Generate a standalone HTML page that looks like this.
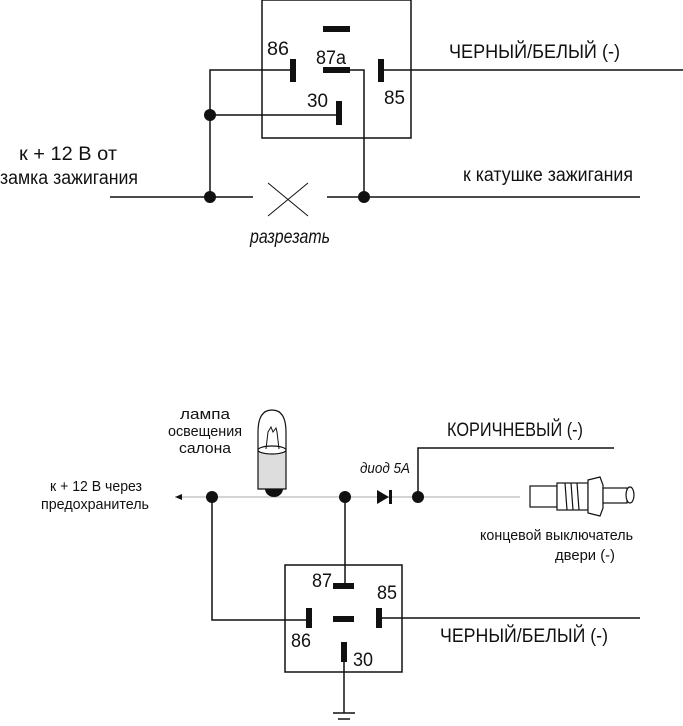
<!DOCTYPE html>
<html><head><meta charset="utf-8"><style>
html,body{margin:0;padding:0;background:#fff}
svg{display:block}
text{font-family:"Liberation Sans",sans-serif;fill:#111}
</style></head><body>
<svg width="683" height="726" viewBox="0 0 683 726" xmlns="http://www.w3.org/2000/svg">
<g stroke="#111" stroke-width="1.5" fill="none">
<rect x="262" y="0" width="149" height="138"/>
<polyline points="210,197 210,70 293,70"/>
<line x1="210" y1="115" x2="339" y2="115"/>
<polyline points="350,70 364,70 364,197"/>
<line x1="381" y1="70" x2="683" y2="70"/>
<line x1="110" y1="197" x2="253" y2="197"/>
<line x1="327" y1="197" x2="640" y2="197"/>
<line x1="268" y1="183" x2="308" y2="216" stroke-width="1"/>
<line x1="308" y1="183" x2="268" y2="216" stroke-width="1"/>
<line x1="175" y1="497" x2="520" y2="497" stroke="#aaa" stroke-width="1"/>
<polyline points="418,497 418,448 614,448"/>
<polyline points="212,497 212,620 309,620"/>
<line x1="345" y1="497" x2="345" y2="586"/>
<rect x="285" y="565" width="117" height="107"/>
<line x1="379" y1="618" x2="640" y2="618"/>
<line x1="344" y1="662" x2="344" y2="713"/>
<line x1="333" y1="713" x2="355" y2="713"/>
<line x1="338" y1="719" x2="350" y2="719"/>
</g>
<g fill="#111">
<rect x="290" y="59" width="6" height="23"/>
<rect x="323" y="26" width="27" height="6"/>
<rect x="323" y="67" width="27" height="6"/>
<rect x="378" y="59" width="6" height="23"/>
<rect x="336" y="101" width="6" height="24"/>
<circle cx="210" cy="115" r="6"/>
<circle cx="210" cy="197" r="6"/>
<circle cx="364" cy="197" r="6"/>
<rect x="333" y="583" width="21" height="6"/>
<rect x="306" y="608" width="6" height="20"/>
<rect x="333" y="616" width="21" height="6"/>
<rect x="376" y="608" width="6" height="20"/>
<rect x="341" y="642" width="6" height="20"/>
<circle cx="212" cy="497" r="6"/>
<circle cx="345" cy="497" r="6"/>
<circle cx="418" cy="497" r="6"/>
<polygon points="175,497 182,494 182,500"/>
<polygon points="377,490 377,504 389,497"/>
<rect x="389" y="490" width="3" height="14"/>
<path d="M265,489 a9,8 0 0 0 18,0 z"/>
</g>
<g stroke="#111" stroke-width="1.2" fill="none">
<path d="M258,450 L258,432 Q258,410 272,410 Q286,410 286,432 L286,450"/>
<path d="M258,450 L258,489 L286,489 L286,450" fill="#ddd"/>
<ellipse cx="272" cy="450" rx="14" ry="4" fill="#fff"/>
<path d="M266,449 L268,432 L271,427 L273,432 L276,428 L277,432 L279,449" stroke-width="1"/>
</g>
<g stroke="#111" stroke-width="1.2" fill="#fff">
<rect x="530" y="486" width="27" height="21"/>
<rect x="557" y="483" width="31" height="27"/>
<line x1="565" y1="483" x2="567" y2="510"/><line x1="571" y1="483" x2="573" y2="510"/><line x1="577" y1="483" x2="579" y2="510"/>
<path d="M588,480 L600,477 L603,485 L603,508 L600,516 L588,513 Z"/>
<rect x="603" y="488" width="24" height="15"/>
<ellipse cx="630" cy="495" rx="4" ry="8"/>
</g>
<g font-size="19" lengthAdjust="spacingAndGlyphs">
<text x="267" y="55" textLength="22" lengthAdjust="spacingAndGlyphs">86</text>
<text x="316" y="64" textLength="30" lengthAdjust="spacingAndGlyphs">87a</text>
<text x="307" y="107" textLength="21" lengthAdjust="spacingAndGlyphs">30</text>
<text x="384" y="104" textLength="21" lengthAdjust="spacingAndGlyphs">85</text>
<text x="449" y="58" textLength="171" lengthAdjust="spacingAndGlyphs">ЧЕРНЫЙ/БЕЛЫЙ (-)</text>
<text x="19" y="160" textLength="98" lengthAdjust="spacingAndGlyphs">к + 12 В от</text>
<text x="0" y="184" textLength="138" lengthAdjust="spacingAndGlyphs">замка зажигания</text>
<text x="463" y="181" textLength="170" lengthAdjust="spacingAndGlyphs">к катушке зажигания</text>
<text x="250" y="243" textLength="80" lengthAdjust="spacingAndGlyphs" font-style="italic">разрезать</text>
<text x="447" y="436" textLength="136" lengthAdjust="spacingAndGlyphs">КОРИЧНЕВЫЙ (-)</text>
<text x="440" y="642" textLength="168" lengthAdjust="spacingAndGlyphs">ЧЕРНЫЙ/БЕЛЫЙ (-)</text>
<text x="312" y="587" textLength="20" lengthAdjust="spacingAndGlyphs">87</text>
<text x="377" y="599" textLength="20" lengthAdjust="spacingAndGlyphs">85</text>
<text x="291" y="647" textLength="20" lengthAdjust="spacingAndGlyphs">86</text>
<text x="353" y="666" textLength="20" lengthAdjust="spacingAndGlyphs">30</text>
</g>
<g font-size="15">
<text x="180" y="419" textLength="50" lengthAdjust="spacingAndGlyphs">лампа</text>
<text x="168" y="436" textLength="74" lengthAdjust="spacingAndGlyphs">освещения</text>
<text x="179" y="453" textLength="52" lengthAdjust="spacingAndGlyphs">салона</text>
<text x="360" y="473" textLength="50" lengthAdjust="spacingAndGlyphs" font-style="italic">диод 5А</text>
<text x="50" y="491" textLength="92" lengthAdjust="spacingAndGlyphs">к + 12 В через</text>
<text x="41" y="509" textLength="108" lengthAdjust="spacingAndGlyphs">предохранитель</text>
<text x="480" y="540" textLength="153" lengthAdjust="spacingAndGlyphs">концевой выключатель</text>
<text x="555" y="560" textLength="60" lengthAdjust="spacingAndGlyphs">двери (-)</text>
</g>
</svg>
</body></html>
